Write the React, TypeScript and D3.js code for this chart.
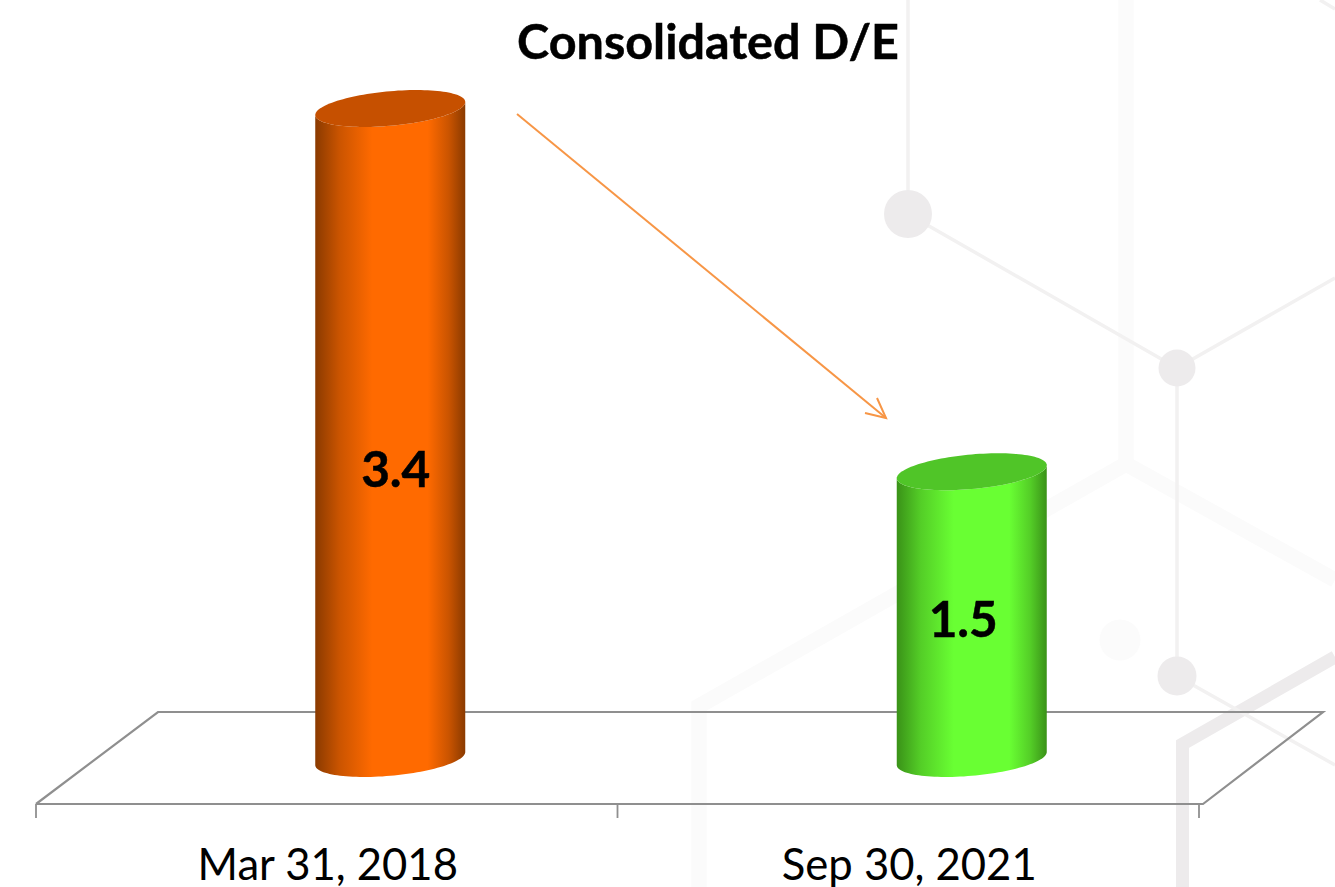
import React from "react";
import * as d3 from "d3";

const categories = ["Mar 31, 2018", "Sep 30, 2021"];
const values = [3.4, 1.5];
const valueLabels = ["3.4", "1.5"];
const title = "Consolidated D/E";
const edgeColors = ["#8a3a00", "#3a9218"];
const bodyColors = ["#ff6a00", "#69ff33"];
const capColors = ["#c65000", "#50c528"];
const shadeStops = [
  [0, 1],
  [0.16, 0.45],
  [0.38, 0],
  [0.75, 0],
  [0.89, 0.45],
  [1, 1],
];

const W = 1335, H = 887;
const x = d3.scaleBand<string>().domain(categories).range([36, 1199]);
const y = d3.scaleLinear().domain([0, 3.4]).range([758.5, 108.5]);
const depthX = 63.5;
const rx = 75, tilt = -6.5, ry = 17.3;
const floorFront = 804, floorBack = 712, floorDx = 122;

const ell = (cx: number, cy: number, t: number): [number, number] => [
  cx + rx * Math.cos(t),
  cy + tilt * Math.cos(t) + ry * Math.sin(t),
];
const line = d3.line();
const angles = d3.range(0, 2 * Math.PI, Math.PI / 60);
const fullEllipse = (cx: number, cy: number) => line(angles.map((t) => ell(cx, cy, t)))! + "Z";
const bodyPath = (cx: number, top: number, base: number) => {
  const lower = d3.range(0, Math.PI + 0.001, Math.PI / 60).map((t) => ell(cx, base, t));
  const upper = d3.range(Math.PI, -0.001, -Math.PI / 60).map((t) => ell(cx, top, t));
  return line([...lower, ...upper])! + "Z";
};

const font = "Lato, 'Open Sans', sans-serif";
const c1 = "#edebec", c2 = "#f2f1f1", c3 = "#fbfbfb";

export default function App() {
  const x0 = x.range()[0], x1 = x.range()[1];
  return (
    <svg width={W} height={H} viewBox={`0 0 ${W} ${H}`} style={{ position: "absolute", left: 0, top: 0, background: "#fff" }}>
      <defs>
        {bodyColors.map((c, i) => (
          <linearGradient key={i} id={`side${i}`} x1="0" x2="1" y1="0" y2="0">
            {shadeStops.map(([o, s]) => (
              <stop key={o} offset={o} stopColor={d3.interpolateRgb(c, edgeColors[i])(s)} />
            ))}
          </linearGradient>
        ))}
      </defs>

      {/* background pattern */}
      <g fill="none">
        <path d="M1126 0V464L1335 580M1126 464L699 706V887" stroke={c3} strokeWidth={15.5} />
        <path d="M1182.5 887V744L1335 657" stroke={c1} strokeWidth={13} />
        <path d="M908 0V214L1177 368L1335 278M1177 368V676L1335 765M1320 0L1335 9" stroke={c2} strokeWidth={3.5} />
      </g>
      <circle cx={908} cy={214} r={24} fill={c1} />
      <circle cx={1177} cy={368} r={18.5} fill={c1} />
      <circle cx={1177} cy={676} r={19.5} fill={c1} />
      <circle cx={1120} cy={640} r={20.5} fill={c3} />

      {/* floor */}
      <g fill="none" stroke="#8f8f8f" strokeWidth={2.2}>
        <path d={`M${x0} ${floorFront}L${x0 + floorDx} ${floorBack}H${x1 + floorDx + 2}L${x1 + 4} ${floorFront}H${x0}`} />
        {[...categories.map((c) => x(c)!), x1].map((t, i) => (
          <path key={i} d={`M${t} ${floorFront}V${floorFront + 14}`} strokeWidth={1.8} />
        ))}
      </g>

      {/* cylinders */}
      {categories.map((c, i) => {
        const cx = x(c)! + x.bandwidth() / 2 + depthX;
        const top = y(values[i]);
        const base = y(0);
        return (
          <g key={c}>
            <path d={bodyPath(cx, top, base)} fill={`url(#side${i})`} />
            <path d={fullEllipse(cx, top)} fill={capColors[i]} />
          </g>
        );
      })}

      {/* arrow */}
      <g fill="none" stroke="#f79646" strokeWidth={2}>
        <path d="M517 114L886 418" />
        <path d="M877 398L886 418L865 413" />
      </g>

      {/* texts */}
      <text x={708} y={59} textAnchor="middle" fontFamily={font} fontWeight={700} fontSize={48.5} stroke="#000" strokeWidth={0.5} fill="#000">{title}</text>
      {categories.map((c) => (
        <text key={c} x={x(c)! + x.bandwidth() / 2 + 1} y={880} textAnchor="middle" fontFamily={font} fontSize={43.6} fill="#000">{c}</text>
      ))}
      {categories.map((c, i) => (
        <text key={c} x={x(c)! + x.bandwidth() / 2 + depthX + (i === 0 ? 5.5 : -8.5)} y={(y(values[i]) + y(0)) / 2 + (i === 0 ? 53 : 22)} textAnchor="middle" fontFamily={font} fontWeight={700} fontSize={49.5} stroke="#000" strokeWidth={0.5} fill="#000">{valueLabels[i]}</text>
      ))}
    </svg>
  );
}
